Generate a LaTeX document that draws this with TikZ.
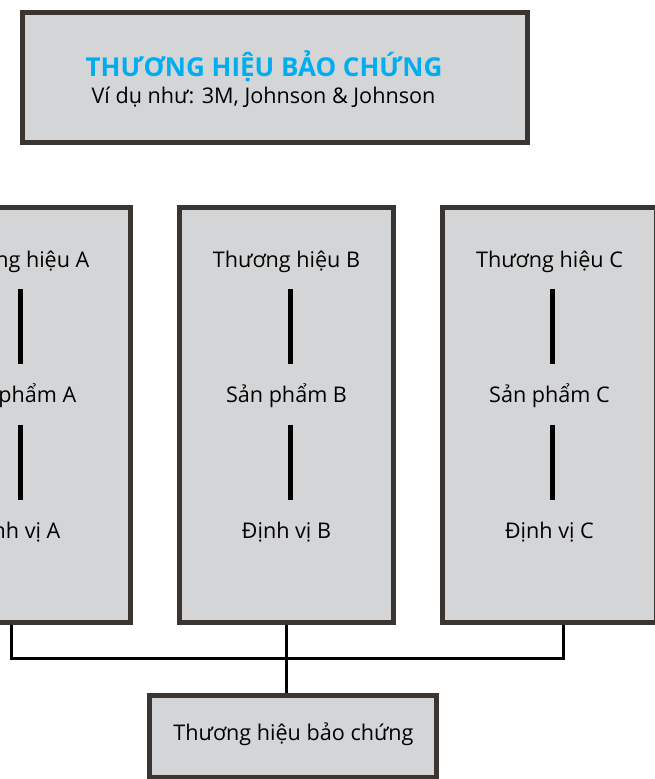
\documentclass[tikz,border=0pt]{standalone}
\usepackage{fontspec}
\setmainfont{Open Sans}
\usepackage{tikz}
\usepackage{xcolor}
\usetikzlibrary{calc}
\definecolor{vien}{RGB}{59,53,50}
\definecolor{nen}{RGB}{212,213,215}
\definecolor{xanh}{RGB}{0,174,239}
\tikzset{
  hop/.style={draw=vien, line width=5pt, fill=nen, inner sep=0pt},
  chu/.style={font=\fontsize{21.6}{25}\selectfont, inner sep=0pt, anchor=base},
  vach/.style={line width=5pt, black, shorten <=22pt, shorten >=38.5pt},
  noi/.style={line width=3pt, black}
}

\begin{document}
\begin{tikzpicture}[x=1pt,y=-1pt]
    \useasboundingbox (0,0) rectangle (655,779);
    \clip (0,0) rectangle (655,779);
    % Hộp trên cùng
    \node[hop, minimum width=505pt, minimum height=130pt] (tren) at (275,77.5) {};
    \node[chu, text=xanh, font=\bfseries\fontsize{26}{30}\selectfont] (tieude) at (264,76) {THƯƠNG HIỆU BẢO CHỨNG};
    \node[chu] (vidu) at (263.5,103.3) {Ví dụ như: 3M, Johnson \& Johnson};
    % Cột A
    \node[hop, minimum width=214pt, minimum height=415pt] (cotA) at (23.5,415) {};
    \node[chu] (thA) at (16,267.3) {Thương hiệu A};
    \node[chu] (spA) at (16,402.7) {Sản phẩm A};
    \node[chu] (dvA) at (16,538) {Định vị A};
    \draw[vach] ($(thA.base)+(4,0)$) -- ($(spA.base)+(4,0)$);
    \draw[vach] ($(spA.base)+(4,0)$) -- ($(dvA.base)+(4,0)$);
    % Cột B
    \node[hop, minimum width=214pt, minimum height=415pt] (cotB) at (286.5,415) {};
    \node[chu] (thB) at (286.5,267.3) {Thương hiệu B};
    \node[chu] (spB) at (286.5,402.7) {Sản phẩm B};
    \node[chu] (dvB) at (286.5,538) {Định vị B};
    \draw[vach] ($(thB.base)+(3.5,0)$) -- ($(spB.base)+(3.5,0)$);
    \draw[vach] ($(spB.base)+(3.5,0)$) -- ($(dvB.base)+(3.5,0)$);
    % Cột C
    \node[hop, minimum width=214pt, minimum height=415pt] (cotC) at (549.5,415) {};
    \node[chu] (thC) at (549.5,267.3) {Thương hiệu C};
    \node[chu] (spC) at (549.5,402.7) {Sản phẩm C};
    \node[chu] (dvC) at (549.5,538) {Định vị C};
    \draw[vach] ($(thC.base)+(3.2,0)$) -- ($(spC.base)+(3.2,0)$);
    \draw[vach] ($(spC.base)+(3.2,0)$) -- ($(dvC.base)+(3.2,0)$);
    % Hộp dưới cùng
    \node[hop, minimum width=287pt, minimum height=82pt] (duoi) at (293,736.5) {};
    \node[chu] (bc) at (293.5,740) {Thương hiệu bảo chứng};
    % Đường nối
    \coordinate (nA) at (11,658);
    \coordinate (nC) at (563,658);
    \draw[noi] (nA |- cotA.south) -- (nA) -- (nC) -- (nC |- cotC.south);
    \draw[noi] (cotB.south) -- (cotB.south |- duoi.north);
\end{tikzpicture}
\end{document}
